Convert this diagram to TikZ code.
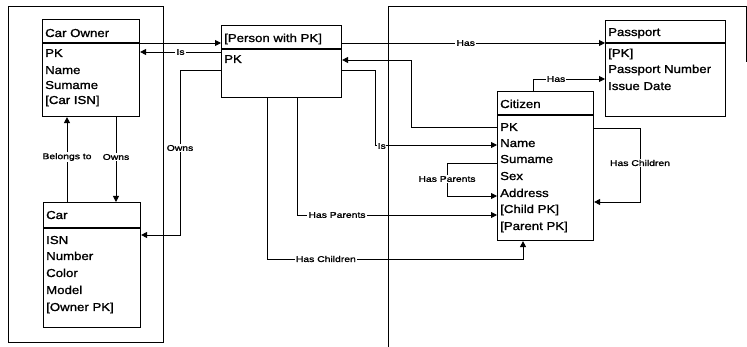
\documentclass[tikz,border=0pt]{standalone}
\usepackage{fontspec}
\setmainfont{Liberation Sans}[FakeStretch=1.15,FakeBold=1.3]
\newfontfamily\lblfont{Liberation Sans}[FakeStretch=1.25,FakeBold=1.5]
\usetikzlibrary{arrows.meta}
\tikzset{
  box/.style={draw, line width=1.1pt, inner sep=0pt},
  attr/.style={anchor=base west, inner sep=0pt, font=\fontsize{11.5}{13}\selectfont},
  lbl/.style={fill=white, inner sep=1.2pt, font=\lblfont\fontsize{8.3}{9}\selectfont},
  conn/.style={line width=0.9pt},
  arr/.style={conn, -{Triangle[length=6pt,width=6pt]}},
  frame/.style={line width=1pt}
}
\begin{document}
\begin{tikzpicture}[x=1pt,y=-1pt]
\useasboundingbox (0,0) rectangle (747,347);
% frames
\draw[frame] (8,7) rectangle (163,342);
\draw[frame] (388,347) -- (388,7) -- (746,7) -- (746,62);
% boxes
\node[box, minimum width=97pt, minimum height=97pt, anchor=north west] (owner) at (42,19) {};
\draw[box] (owner.north west) ++(0,-24pt) coordinate (ownerh) -- (ownerh -| owner.east);
\node[box, minimum width=97pt, minimum height=125pt, anchor=north west] (car) at (43,202) {};
\draw[box] (car.north west) ++(0,-26pt) coordinate (carh) -- (carh -| car.east);
\node[box, minimum width=120pt, minimum height=72pt, anchor=north west] (person) at (221,25) {};
\draw[box] (person.north west) ++(0,-24pt) coordinate (personh) -- (personh -| person.east);
\node[box, minimum width=120pt, minimum height=96pt, anchor=north west] (passport) at (605,20) {};
\draw[box] (passport.north west) ++(0,-23pt) coordinate (passh) -- (passh -| passport.east);
\node[box, minimum width=96pt, minimum height=149pt, anchor=north west] (citizen) at (497,91) {};
\draw[box] (citizen.north west) ++(0,-24pt) coordinate (cith) -- (cith -| citizen.east);
% texts
\node[attr] (o0) at (45,37) {Car Owner};
\node[attr] (o1) at (45,57) {PK};
\node[attr] (o2) at (45,74) {Name};
\node[attr] (o3) at (45,89) {Sumame};
\node[attr] (o4) at (45,104) {[Car ISN]};
\node[attr] (c0) at (46,219) {Car};
\node[attr] (c1) at (46,244) {ISN};
\node[attr] (c2) at (46,260) {Number};
\node[attr] (c3) at (46,277) {Color};
\node[attr] (c4) at (46,294) {Model};
\node[attr] (c5) at (46,311) {[Owner PK]};
\node[attr] (p0) at (224,42) {[Person with PK]};
\node[attr] (p1) at (224,63) {PK};
\node[attr] (s0) at (608,36) {Passport};
\node[attr] (s1) at (608,57) {[PK]};
\node[attr] (s2) at (608,73) {Passport Number};
\node[attr] (s3) at (608,90) {Issue Date};
\node[attr] (z0) at (500,108) {Citizen};
\node[attr] (z1) at (500,131) {PK};
\node[attr] (z2) at (500,147) {Name};
\node[attr] (z3) at (500,163) {Sumame};
\node[attr] (z4) at (500,180) {Sex};
\node[attr] (z5) at (500,197) {Address};
\node[attr] (z6) at (500,213) {[Child PK]};
\node[attr] (z7) at (500,230) {[Parent PK]};
% connectors
\draw[arr] (owner.east |- 0,43) -- (person.west |- 0,43);
\draw[arr] (person.west |- 0,52) -- node[lbl] {Is} (owner.east |- 0,52);
\draw[arr] (person.west |- 0,70) -- (180,70) -- (180,235) -- (car.east |- 0,235);
\node[lbl] (lOwns1) at (180,148) {Owns};
\draw[arr] (car.north -| 67,0) -- (owner.south -| 67,0);
\node[lbl] (lBel) at (67,157) {Belongs to};
\draw[arr] (owner.south -| 116,0) -- (car.north -| 116,0);
\node[lbl] (lOwns2) at (116,157) {Owns};
\draw[arr] (person.east |- 0,43) -- node[lbl, pos=0.47] {Has} (passport.west |- 0,43);
\draw[arr] (citizen.north -| 533,0) -- (533,79) -- node[lbl, pos=0.32] {Has} (passport.west |- 0,79);
\draw[arr] (citizen.west |- 0,127) -- (411,127) -- (411,60) -- (person.east |- 0,60);
\draw[arr] (person.east |- 0,70) -- (375,70) -- (375,145) -- (citizen.west |- 0,145);
\node[lbl, anchor=west, inner sep=0.5pt] (lIs2) at (377,146) {Is};
\draw[arr] (citizen.west |- 0,163) -- (447,163) -- (447,196) -- (citizen.west |- 0,196);
\node[lbl] (lHP1) at (447,179) {Has Parents};
\draw[arr] (person.south -| 297,0) -- (297,215) -- node[lbl, pos=0.2] {Has Parents} (citizen.west |- 0,215);
\draw[arr] (person.south -| 267,0) -- (267,259) -- node[lbl, pos=0.23] {Has Children} (523,259) -- (citizen.south -| 523,0);
\draw[arr] (citizen.east |- 0,128) -- (640,128) -- (640,202) -- (citizen.east |- 0,202);
\node[lbl] (lHC2) at (640,163) {Has Children};
\end{tikzpicture}
\end{document}
